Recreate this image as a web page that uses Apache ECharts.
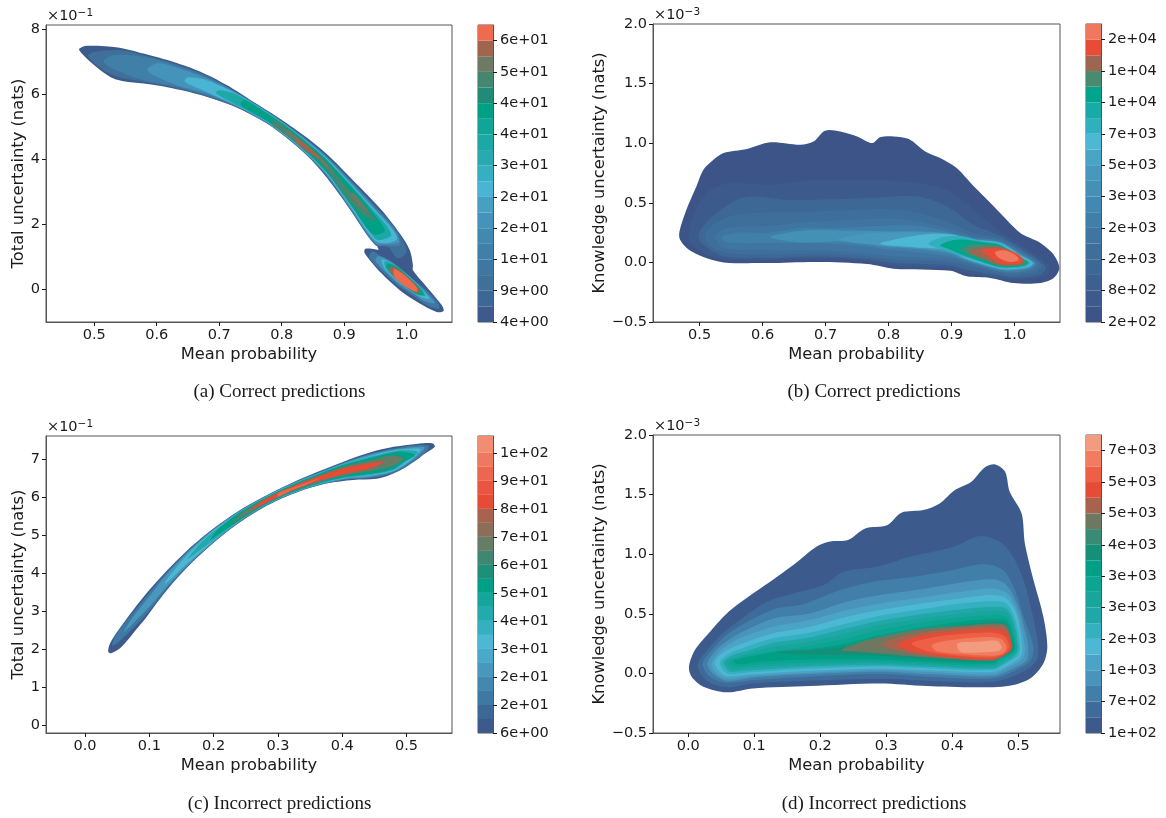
<!DOCTYPE html>
<html>
<head>
<meta charset="utf-8">
<style>html,body{margin:0;background:#fff}#chart{width:1166px;height:818px}</style>
<script src="https://cdn.jsdelivr.net/npm/echarts@6/dist/echarts.min.js"></script>
</head>
<body>
<div id="chart"></div>
<script>
// tick values
const xTicksRight = [0.5, 0.6, 0.7, 0.8, 0.9, 1.0]
const xTicksWrong = [0.0, 0.1, 0.2, 0.3, 0.4, 0.5]
const yTicksA = [0, 2, 4, 6, 8]
const yTicksC = [0, 1, 2, 3, 4, 5, 6, 7]
const yTicksKnow = [-0.5, 0, 0.5, 1.0, 1.5, 2.0]

// colorbar labels, bottom to top, one every two bands
const cbLabelsA = ['4e+00', '9e+00', '1e+01', '2e+01', '2e+01', '3e+01', '4e+01', '4e+01', '5e+01', '6e+01']
const cbLabelsB = ['2e+02', '8e+02', '2e+03', '2e+03', '3e+03', '5e+03', '7e+03', '1e+04', '1e+04', '2e+04']
const cbLabelsC = ['6e+00', '2e+01', '2e+01', '3e+01', '4e+01', '5e+01', '6e+01', '7e+01', '8e+01', '9e+01', '1e+02']
const cbLabelsD = ['1e+02', '7e+02', '1e+03', '2e+03', '3e+03', '3e+03', '4e+03', '5e+03', '5e+03', '7e+03']

// band colours, bottom to top
const bandsA = ['#3d5a8c', '#3d6896', '#3e7099', '#3f77a2', '#4080a8', '#4289b0', '#4592ba', '#48a0c0', '#4ab5d2', '#35b0c0', '#28aab0', '#1ca8a5', '#10a596', '#00a087', '#208c78', '#46856f', '#6e7a64', '#a0654f', '#ee6b50']
const bandsB = ['#3c5488', '#3c5a8c', '#3d6090', '#3d6795', '#3e6e9a', '#3f75a0', '#4080a8', '#4288b0', '#4590b5', '#4898bd', '#4aa5c5', '#4cb8d4', '#30b0bd', '#18aaa5', '#00a58c', '#4a8a70', '#9c6650', '#e84c36', '#f0785f']
const bandsC = ['#3c5a8c', '#3d6896', '#3f78a2', '#4488b0', '#4898bc', '#4aa8c8', '#4cb8d4', '#35b0c0', '#22aaad', '#14a69c', '#00a087', '#1c9078', '#3f8772', '#657c66', '#8a6e58', '#a8634e', '#e64b35', '#e95540', '#ec6650', '#ef7860', '#f28d72']
const bandsD = ['#3c5a8c', '#3e6b99', '#417fa8', '#4a93bb', '#4ba3c5', '#4cb8d4', '#35b0c0', '#20a8a8', '#18a59c', '#0ca592', '#00a087', '#159078', '#3a8a78', '#6e7860', '#a8634f', '#e64b35', '#ee6045', '#f27c60', '#f39b7f']

// filled contours: [band, outline of [x, y]]
const levelsA = [
  [0, [[.476,7.40],[.488,7.49],[.538,7.44],[.579,7.25],[.627,6.99],[.67,6.69],[.712,6.28],[.755,5.76],[.793,5.3],[.835,4.74],[.862,4.33],[.888,3.87],[.907,3.49],[.96,2.43],[.989,1.71],[1.005,1.2],[1.01,.74],[1.01,.58],[1.032,.07],[1.056,-.49],[1.059,-.67],[1.048,-.70],[1.021,-.44],[.989,-.03],[.96,.48],[.933,1.1],[.933,1.23],[.941,1.25],[.955,1.23],[.929,1.95],[.897,2.8],[.865,3.6],[.83,4.33],[.80,4.82],[.779,5.08],[.726,5.61],[.672,5.97],[.619,6.21],[.579,6.33],[.547,6.4],[.531,6.48],[.51,6.74],[.488,7.1],[.477,7.33]]],
  [2, [[.50,7.3],[.54,7.36],[.58,7.2],[.63,6.93],[.68,6.57],[.73,6.04],[.78,5.45],[.83,4.76],[.87,4.14],[.91,3.37],[.95,2.55],[.985,1.8],[1.0,1.15],[.985,.95],[.97,1.3],[.95,1.35],[.91,2.43],[.87,3.52],[.83,4.3],[.78,5.05],[.73,5.58],[.68,5.93],[.63,6.19],[.58,6.38],[.54,6.52],[.51,6.8],[.49,7.18]]],
  [4, [[.53,7.2],[.58,7.15],[.63,6.88],[.68,6.52],[.73,6.03],[.78,5.43],[.83,4.75],[.87,4.12],[.91,3.34],[.95,2.52],[.98,1.85],[.99,1.35],[.97,1.34],[.95,1.38],[.91,2.46],[.87,3.54],[.83,4.31],[.78,5.07],[.73,5.59],[.68,5.98],[.63,6.24],[.58,6.43],[.54,6.7],[.515,7.0]]],
  [6, [[.60,6.95],[.63,6.83],[.68,6.48],[.73,6.01],[.78,5.42],[.83,4.73],[.87,4.09],[.91,3.3],[.95,2.47],[.978,1.88],[.988,1.45],[.97,1.38],[.95,1.43],[.91,2.5],[.87,3.57],[.83,4.33],[.78,5.08],[.73,5.61],[.68,6.02],[.63,6.29],[.585,6.72]]],
  [8, [[.65,6.52],[.68,6.43],[.73,5.99],[.78,5.4],[.83,4.71],[.87,4.07],[.91,3.26],[.95,2.42],[.975,1.9],[.985,1.55],[.97,1.42],[.95,1.48],[.91,2.54],[.87,3.59],[.83,4.35],[.78,5.1],[.73,5.63],[.68,6.07],[.645,6.38]]],
  [11, [[.70,6.12],[.73,5.97],[.78,5.38],[.83,4.69],[.87,4.03],[.91,3.21],[.95,2.35],[.968,1.95],[.975,1.65],[.96,1.52],[.95,1.55],[.91,2.59],[.87,3.63],[.83,4.37],[.78,5.12],[.73,5.65],[.695,6.03]]],
  [13, [[.74,5.82],[.78,5.37],[.83,4.67],[.87,4.01],[.91,3.18],[.945,2.38],[.965,1.8],[.945,1.7],[.91,2.62],[.87,3.65],[.83,4.39],[.78,5.13],[.735,5.66]]],
  [15, [[.79,5.2],[.83,4.61],[.87,3.94],[.905,3.1],[.93,2.6],[.95,2.1],[.93,2.3],[.905,2.8],[.87,3.72],[.83,4.45],[.785,5.06]]],
  [16, [[.81,4.87],[.84,4.45],[.87,3.89],[.885,3.5],[.87,3.77],[.84,4.33],[.805,4.8]]],
  [16, [[.915,2.95],[.935,2.5],[.94,2.35],[.925,2.55],[.91,2.9]]],
  [17, [[.825,4.64],[.85,4.27],[.865,3.98],[.845,4.18],[.822,4.54]]],
  // lower lobe
  [3, [[.945,1.16],[.96,1.0],[.985,.68],[1.01,.3],[1.03,0],[1.05,-.42],[1.052,-.6],[1.035,-.52],[1.01,-.2],[.985,.12],[.96,.55],[.94,.98]]],
  [6, [[.955,1.02],[.975,.85],[.995,.55],[1.015,.2],[1.03,-.07],[1.045,-.42],[1.03,-.38],[1.01,-.13],[.985,.2],[.965,.55],[.95,.88]]],
  [8, [[.96,.92],[.98,.76],[1.0,.47],[1.02,.1],[1.037,-.3],[1.022,-.24],[1.0,.02],[.98,.32],[.965,.62]]],
  [11, [[.965,.86],[.983,.72],[1.0,.44],[1.02,.08],[1.03,-.2],[1.017,-.17],[.997,.08],[.98,.36],[.967,.63]]],
  [13, [[.97,.78],[.985,.68],[1.003,.38],[1.02,.05],[1.027,-.17],[1.014,-.13],[.995,.12],[.98,.4],[.968,.68]]],
  [17, [[.976,.7],[.99,.57],[1.006,.3],[1.019,.03],[1.021,-.13],[1.01,-.06],[.992,.17],[.98,.38],[.972,.6]]],
  [18, [[.98,.62],[.99,.52],[1.004,.3],[1.016,.05],[1.016,-.08],[1.005,0],[.99,.2],[.98,.4]]],
]

const levelsB = [
  [0, [[.468,.26],[.469,.19],[.483,.106],[.506,.045],[.538,0],[.607,-.006],[.686,.003],[.766,-.014],[.808,-.053],[.898,-.07],[.924,-.117],[.961,-.131],[.998,-.173],[1.041,-.173],[1.062,-.131],[1.071,-.048],[1.062,.064],[1.041,.162],[1.025,.204],[1.009,.246],[.967,.47],[.935,.638],[.908,.791],[.882,.875],[.858,.931],[.832,1.035],[.808,1.057],[.787,1.051],[.774,1.001],[.75,1.057],[.723,1.099],[.699,1.105],[.681,1.015],[.66,.987],[.612,1.007],[.575,.951],[.538,.917],[.522,.861],[.506,.777],[.495,.638],[.479,.442]]],
  [1, [[.483,.246],[.496,.47],[.522,.624],[.554,.666],[.617,.652],[.681,.694],[.819,.68],[.893,.61],[.935,.442],[.977,.26],[1.014,.134],[1.054,-.02],[1.049,-.117],[.998,-.145],[.924,-.089],[.898,-.048],[.808,-.028],[.766,.008],[.686,.028],[.607,.017],[.538,.022],[.506,.078],[.485,.162]]],
  [3, [[.498,.218],[.517,.372],[.57,.545],[.639,.526],[.686,.526],[.766,.54],[.845,.554],[.893,.47],[.935,.316],[.977,.224],[1.014,.106],[1.049,-.034],[1.041,-.103],[.998,-.126],[.977,-.112],[.924,-.062],[.898,-.025],[.808,-.006],[.766,.028],[.686,.05],[.607,.036],[.538,.05],[.512,.12]]],
  [4, [[.509,.232],[.525,.33],[.565,.408],[.686,.428],[.819,.442],[.893,.344],[.935,.246],[.977,.201],[1.014,.092],[1.043,-.02],[1.035,-.081],[.998,-.109],[.977,-.095],[.924,-.025],[.898,.003],[.808,.022],[.766,.05],[.686,.073],[.607,.064],[.538,.084],[.514,.148]]],
  [5, [[.525,.218],[.543,.288],[.607,.308],[.686,.344],[.819,.364],[.893,.288],[.935,.218],[.977,.187],[1.014,.078],[1.038,-.006],[1.03,-.062],[.998,-.092],[.977,-.081],[.924,-.006],[.898,.028],[.808,.05],[.766,.073],[.686,.101],[.607,.101],[.538,.12]]],
  [6, [[.535,.213],[.565,.252],[.607,.246],[.66,.288],[.713,.288],[.792,.308],[.845,.308],[.893,.26],[.935,.204],[.977,.176],[1.012,.073],[1.034,-.006],[1.026,-.053],[.998,-.081],[.977,-.073],[.924,.008],[.898,.05],[.845,.084],[.808,.101],[.766,.134],[.686,.162],[.607,.162],[.543,.168]]],
  [8, [[.612,.213],[.665,.268],[.739,.268],[.803,.26],[.85,.26],[.893,.246],[.935,.196],[.977,.168],[1.01,.064],[1.032,-.006],[1.024,-.045],[.998,-.067],[.977,-.062],[.924,.017],[.898,.073],[.845,.112],[.792,.134],[.739,.176],[.66,.168]]],
  [9, [[.72,.19],[.77,.245],[.83,.25],[.893,.24],[.935,.193],[.977,.165],[1.01,.062],[1.03,-.006],[1.023,-.042],[.998,-.062],[.977,-.058],[.924,.022],[.895,.09],[.845,.12],[.79,.14]]],
  [11, [[.787,.157],[.829,.213],[.871,.24],[.903,.232],[.935,.19],[.977,.162],[1.009,.059],[1.029,-.006],[1.022,-.039],[.998,-.056],[.977,-.053],[.924,.028],[.893,.106],[.845,.126]]],
  [12, [[.863,.157],[.887,.213],[.919,.218],[.945,.182],[.977,.154],[1.008,.05],[1.025,0],[1.019,-.034],[.998,-.048],[.977,-.048],[.924,.039],[.887,.106]]],
  [14, [[.882,.143],[.901,.185],[.924,.19],[.951,.168],[.977,.145],[1.006,.045],[1.022,0],[1.015,-.028],[.998,-.039],[.977,-.039],[.924,.05],[.898,.106]]],
  [15, [[.916,.106],[.93,.148],[.951,.148],[.977,.134],[1.006,.056],[1.019,0],[1.012,-.025],[.998,-.031],[.977,-.031],[.951,.022],[.928,.064]]],
  [16, [[.927,.092],[.946,.123],[.977,.129],[1.006,.064],[1.015,.003],[1.009,-.02],[.977,-.025],[.951,.028]]],
  [17, [[.946,.101],[.977,.115],[1.004,.073],[1.013,.017],[1.006,-.011],[.977,-.006],[.959,.05]]],
  [18, [[.969,.087],[.985,.101],[1.004,.05],[1.006,.017],[.993,.003],[.975,.036]]],
]

const levelsC = [
  [0, [[.036,1.93],[.041,1.89],[.057,2.06],[.078,2.48],[.096,2.85],[.117,3.33],[.143,3.86],[.174,4.4],[.205,4.87],[.236,5.28],[.267,5.62],[.298,5.9],[.334,6.16],[.376,6.36],[.417,6.45],[.453,6.48],[.474,6.58],[.5,6.8],[.526,7.11],[.544,7.32],[.541,7.41],[.521,7.41],[.48,7.32],[.443,7.17],[.402,6.93],[.36,6.65],[.319,6.35],[.277,6.0],[.236,5.6],[.194,5.1],[.158,4.58],[.127,4.06],[.101,3.57],[.075,3.03],[.052,2.5],[.039,2.15]]],
  [2, [[.05,2.42],[.075,2.97],[.10,3.49],[.127,4.02],[.158,4.55],[.194,5.08],[.236,5.59],[.277,5.99],[.319,6.34],[.36,6.63],[.402,6.91],[.443,7.14],[.48,7.28],[.52,7.37],[.535,7.33],[.52,7.03],[.48,6.64],[.443,6.5],[.402,6.45],[.36,6.29],[.319,6.06],[.277,5.73],[.236,5.29],[.194,4.72],[.158,4.15],[.127,3.58],[.10,3.01],[.075,2.55],[.05,2.15],[.042,2.1]]],
  [4, [[.075,2.85],[.10,3.39],[.127,3.96],[.158,4.52],[.194,5.07],[.236,5.58],[.277,5.98],[.319,6.33],[.36,6.61],[.402,6.89],[.443,7.11],[.48,7.25],[.51,7.31],[.528,7.3],[.51,6.98],[.48,6.67],[.443,6.53],[.402,6.47],[.36,6.31],[.319,6.07],[.277,5.74],[.236,5.3],[.194,4.73],[.158,4.18],[.127,3.64],[.10,3.11],[.075,2.68],[.06,2.45]]],
  [6, [[.127,3.82],[.158,4.46],[.194,5.04],[.236,5.56],[.277,5.97],[.319,6.32],[.36,6.6],[.402,6.87],[.443,7.08],[.48,7.23],[.505,7.27],[.522,7.25],[.505,6.95],[.48,6.69],[.443,6.56],[.402,6.49],[.36,6.32],[.319,6.08],[.277,5.75],[.236,5.32],[.194,4.76],[.158,4.24],[.125,3.72]]],
  [8, [[.175,4.7],[.194,5.01],[.236,5.55],[.277,5.96],[.319,6.31],[.36,6.59],[.402,6.86],[.443,7.06],[.48,7.2],[.5,7.23],[.518,7.18],[.5,6.95],[.48,6.72],[.443,6.58],[.402,6.5],[.36,6.33],[.319,6.09],[.277,5.76],[.236,5.33],[.194,4.79],[.16,4.38]]],
  [10, [[.205,5.12],[.236,5.54],[.277,5.95],[.319,6.3],[.36,6.58],[.402,6.84],[.443,7.03],[.48,7.18],[.495,7.19],[.513,7.1],[.495,6.92],[.48,6.74],[.443,6.61],[.402,6.52],[.36,6.34],[.319,6.1],[.277,5.77],[.236,5.34],[.195,4.88]]],
  [13, [[.25,5.65],[.277,5.93],[.319,6.28],[.36,6.55],[.402,6.8],[.443,6.96],[.48,7.1],[.495,7.0],[.48,6.82],[.443,6.68],[.402,6.56],[.36,6.37],[.319,6.12],[.277,5.79],[.228,5.32]]],
  [16, [[.277,5.91],[.319,6.25],[.36,6.52],[.402,6.76],[.443,6.89],[.465,6.92],[.443,6.75],[.402,6.6],[.36,6.4],[.319,6.15],[.277,5.81],[.258,5.66]]],
  [18, [[.30,6.1],[.32,6.23],[.345,6.38],[.365,6.5],[.345,6.33],[.32,6.17],[.30,6.0]]],
]

const levelsD = [
  [0, [[.001,.056],[.01,.196],[.033,.35],[.061,.517],[.091,.643],[.124,.769],[.159,.909],[.194,1.063],[.215,1.107],[.242,1.119],[.268,1.216],[.301,1.242],[.323,1.348],[.356,1.37],[.381,1.426],[.404,1.538],[.429,1.608],[.449,1.728],[.465,1.753],[.48,1.692],[.487,1.524],[.505,1.342],[.51,1.09],[.523,.783],[.538,.475],[.544,.224],[.538,.084],[.518,-.042],[.487,-.103],[.437,-.117],[.361,-.106],[.29,-.084],[.184,-.106],[.098,-.126],[.058,-.159],[.023,-.112],[.005,-.028]]],
  [1, [[.014,.07],[.033,.224],[.058,.364],[.119,.601],[.159,.671],[.205,.741],[.235,.853],[.285,.895],[.336,.979],[.402,1.063],[.442,1.152],[.472,1.105],[.492,.979],[.508,.783],[.52,.531],[.53,.252],[.528,.112],[.508,.014],[.462,-.07],[.361,-.062],[.29,-.045],[.184,-.062],[.098,-.084],[.058,-.117],[.028,-.062]]],
  [2, [[.022,.084],[.04,.224],[.068,.364],[.129,.537],[.174,.58],[.23,.699],[.28,.769],[.341,.811],[.402,.867],[.447,.917],[.477,.867],[.495,.699],[.508,.475],[.523,.224],[.519,.112],[.497,.028],[.462,-.042],[.361,-.028],[.29,-.006],[.184,-.028],[.098,-.056],[.058,-.078],[.033,-.028]]],
  [3, [[.029,.084],[.045,.21],[.073,.322],[.129,.461],[.184,.503],[.24,.601],[.29,.657],[.361,.713],[.412,.761],[.462,.789],[.482,.741],[.5,.559],[.51,.364],[.515,.224],[.513,.112],[.492,.042],[.462,-.022],[.361,-.006],[.29,.014],[.184,-.006],[.098,-.034],[.058,-.062],[.038,-.006]]],
  [4, [[.035,.084],[.05,.196],[.078,.294],[.129,.392],[.184,.447],[.24,.531],[.29,.587],[.361,.643],[.412,.685],[.462,.713],[.484,.671],[.498,.531],[.51,.224],[.507,.126],[.487,.056],[.462,-.006],[.361,.011],[.29,.028],[.184,.006],[.098,-.019],[.058,-.042],[.04,.014]]],
  [5, [[.04,.098],[.055,.182],[.083,.252],[.129,.336],[.184,.391],[.24,.475],[.29,.531],[.361,.593],[.412,.629],[.462,.657],[.482,.629],[.497,.503],[.506,.224],[.503,.14],[.485,.07],[.462,.014],[.361,.028],[.29,.042],[.184,.022],[.098,-.006],[.058,-.022],[.045,.028]]],
  [6, [[.048,.098],[.063,.168],[.088,.224],[.129,.294],[.184,.341],[.24,.419],[.29,.484],[.361,.545],[.412,.587],[.462,.606],[.482,.587],[.495,.461],[.503,.224],[.499,.145],[.482,.084],[.462,.028],[.361,.042],[.29,.056],[.184,.039],[.098,.011],[.061,-.006],[.051,.042]]],
  [7, [[.053,.098],[.068,.154],[.093,.196],[.129,.257],[.184,.302],[.24,.378],[.29,.442],[.361,.503],[.412,.537],[.462,.559],[.482,.545],[.493,.433],[.5,.224],[.496,.154],[.48,.092],[.462,.042],[.361,.056],[.29,.07],[.184,.056],[.098,.028],[.063,.014],[.056,.056]]],
  [8, [[.057,.098],[.073,.14],[.098,.176],[.129,.224],[.184,.266],[.24,.336],[.29,.405],[.361,.467],[.412,.503],[.462,.526],[.482,.512],[.492,.405],[.498,.224],[.495,.162],[.477,.106],[.462,.056],[.361,.07],[.29,.084],[.184,.073],[.098,.05],[.066,.034],[.06,.062]]],
  [9, [[.063,.098],[.078,.134],[.109,.168],[.184,.229],[.24,.294],[.29,.364],[.361,.434],[.412,.467],[.462,.489],[.482,.475],[.491,.378],[.496,.224],[.492,.168],[.475,.118],[.462,.07],[.361,.084],[.29,.098],[.184,.092],[.109,.075],[.071,.056],[.064,.078]]],
  [10, [[.068,.106],[.088,.134],[.134,.182],[.184,.204],[.24,.252],[.29,.322],[.361,.391],[.412,.433],[.462,.456],[.482,.442],[.49,.35],[.495,.224],[.491,.173],[.472,.126],[.462,.084],[.361,.098],[.29,.117],[.184,.117],[.109,.098],[.076,.078]]],
  [11, [[.131,.179],[.179,.196],[.235,.224],[.28,.28],[.361,.364],[.412,.405],[.462,.433],[.482,.414],[.488,.308],[.493,.224],[.488,.179],[.472,.134],[.462,.098],[.361,.117],[.29,.145],[.21,.154],[.159,.162]]],
  [13, [[.232,.196],[.263,.266],[.311,.33],[.361,.378],[.412,.397],[.462,.419],[.482,.397],[.491,.224],[.486,.179],[.47,.126],[.462,.106],[.361,.134],[.29,.168],[.26,.182]]],
  [14, [[.293,.246],[.321,.308],[.361,.35],[.412,.383],[.462,.4],[.482,.383],[.49,.224],[.485,.176],[.462,.112],[.361,.145],[.311,.201]]],
  [15, [[.316,.24],[.341,.302],[.376,.336],[.412,.358],[.462,.372],[.481,.341],[.49,.224],[.483,.168],[.462,.12],[.412,.126],[.361,.162],[.333,.196]]],
  [16, [[.338,.252],[.376,.308],[.412,.33],[.462,.341],[.48,.308],[.486,.224],[.48,.168],[.462,.134],[.412,.145],[.361,.187]]],
  [17, [[.369,.238],[.391,.274],[.437,.302],[.472,.294],[.482,.224],[.477,.168],[.462,.148],[.412,.162],[.376,.187]]],
  [18, [[.408,.252],[.437,.266],[.467,.274],[.475,.224],[.47,.187],[.442,.176],[.412,.182]]],
]

const panels = [
  { levels: levelsA, bands: bandsA, cbLabels: cbLabelsA, cbMax: 19, box: [46, 25, 406, 297], cbLeft: 478, xr: [.4229, 1.0725], yr: [-1.01, 8.13], xTicks: xTicksRight, yTicks: yTicksA, yName: 'Total uncertainty (nats)', yDigits: 0, exp: '−1', cap: '(a) Correct predictions', capX: 279.5, capY: 383, nameGap: 18 },
  { levels: levelsB, bands: bandsB, cbLabels: cbLabelsB, cbMax: 19, box: [653, 24, 407, 298], cbLeft: 1086, xr: [.426, 1.072], yr: [-.5, 2], xTicks: xTicksRight, yTicks: yTicksKnow, yName: 'Knowledge uncertainty (nats)', yDigits: 1, exp: '−3', cap: '(b) Correct predictions', capX: 874, capY: 383, nameGap: 41 },
  { levels: levelsC, bands: bandsC, cbLabels: cbLabelsC, cbMax: 21.2, box: [46, 436, 406, 297], cbLeft: 478, xr: [-.0607, .5707], yr: [-.21, 7.606], xTicks: xTicksWrong, yTicks: yTicksC, yName: 'Total uncertainty (nats)', yDigits: 0, exp: '−1', cap: '(c) Incorrect predictions', capX: 279.5, capY: 795, nameGap: 18 },
  { levels: levelsD, bands: bandsD, cbLabels: cbLabelsD, cbMax: 19, box: [653, 435, 407, 298], cbLeft: 1086, xr: [-.0535, .5632], yr: [-.5, 2], xTicks: xTicksWrong, yTicks: yTicksKnow, yName: 'Knowledge uncertainty (nats)', yDigits: 1, exp: '−3', cap: '(d) Incorrect predictions', capX: 874, capY: 795, nameGap: 41 },
]

const FONT = 'DejaVu Sans'
const INK = '#1a1a1a'
const EDGE = '#555'

const grid = [], xAxis = [], yAxis = [], series = [], title = []

panels.forEach((p, i) => {
  const [left, top, width, height] = p.box
  const plot = grid.length
  grid.push({ left, top, width, height, show: true, borderColor: EDGE, borderWidth: 1, backgroundColor: '#fff' })
  xAxis.push({
    gridIndex: plot, type: 'value', min: p.xr[0], max: p.xr[1],
    name: 'Mean probability', nameLocation: 'middle', nameGap: 25,
    nameTextStyle: { fontFamily: FONT, fontSize: 16.3, color: INK },
    axisLine: { show: true, onZero: false, lineStyle: { color: EDGE } }, splitLine: { show: false },
    axisTick: { show: true, length: 4, customValues: p.xTicks, lineStyle: { color: INK } },
    axisLabel: { show: true, customValues: p.xTicks, margin: 6, fontFamily: FONT, fontSize: 14.5, color: INK, formatter: v => v.toFixed(1) },
  })
  yAxis.push({
    gridIndex: plot, type: 'value', min: p.yr[0], max: p.yr[1],
    name: p.yName, nameLocation: 'middle', nameGap: p.nameGap,
    nameTextStyle: { fontFamily: FONT, fontSize: 16.3, color: INK },
    axisLine: { show: true, onZero: false, lineStyle: { color: EDGE } }, splitLine: { show: false },
    axisTick: { show: true, length: 4, customValues: p.yTicks, lineStyle: { color: INK } },
    axisLabel: { show: true, customValues: p.yTicks, margin: 6, fontFamily: FONT, fontSize: 14.5, color: INK, formatter: v => v.toFixed(p.yDigits).replace('-', '−') },
  })
  p.levels.forEach(([band, pts]) => {
    series.push({
      type: 'custom', xAxisIndex: plot, yAxisIndex: plot, data: pts, silent: true, animation: false, clip: true,
      renderItem: (params, api) => {
        if (params.dataIndex !== 0) return null
        return {
          type: 'polygon',
          shape: { points: pts.map(pt => api.coord(pt)), smooth: 0.3 },
          style: { fill: p.bands[band], stroke: null },
        }
      },
    })
  })

  // colorbar: a stack of one-band bars
  const cb = grid.length
  grid.push({ left: p.cbLeft, top, width: 15, height, show: true, borderColor: EDGE, borderWidth: 1 })
  xAxis.push({ gridIndex: cb, type: 'category', data: [''], show: false })
  const cbTicks = p.cbLabels.map((_, k) => k * 2)
  yAxis.push({
    gridIndex: cb, type: 'value', position: 'right', min: 0, max: p.cbMax,
    axisLine: { show: true, onZero: false, lineStyle: { color: EDGE } }, splitLine: { show: false },
    axisTick: { show: true, length: 4, customValues: cbTicks, lineStyle: { color: INK } },
    axisLabel: { show: true, customValues: cbTicks, margin: 7, fontFamily: FONT, fontSize: 14.5, color: INK, formatter: v => p.cbLabels[v / 2] },
  })
  p.bands.forEach((c, k) => {
    series.push({
      type: 'bar', xAxisIndex: cb, yAxisIndex: cb, stack: 'cb' + i, barWidth: '100%', silent: true, animation: false,
      data: [k === p.bands.length - 1 ? p.cbMax - k : 1], itemStyle: { color: c },
    })
  })

  title.push({
    text: '×10{s|' + p.exp + '}', left: left + 1, top: top - 17, padding: 0,
    textStyle: { fontFamily: FONT, fontSize: 14.5, fontWeight: 'normal', color: INK, rich: { s: { fontFamily: FONT, fontSize: 10.5, color: INK, verticalAlign: 'top', padding: [0, 0, 6, 0] } } },
  })
  title.push({
    text: p.cap, left: p.capX, top: p.capY, textAlign: 'center', padding: 0,
    textStyle: { fontFamily: 'Liberation Serif', fontSize: 19, fontWeight: 'normal', color: INK },
  })
})

const chart = echarts.init(document.getElementById('chart'), null, { renderer: 'canvas' })
chart.setOption({ animation: false, backgroundColor: '#fff', title, grid, xAxis, yAxis, series, tooltip: { show: false } })
</script>
</body>
</html>
